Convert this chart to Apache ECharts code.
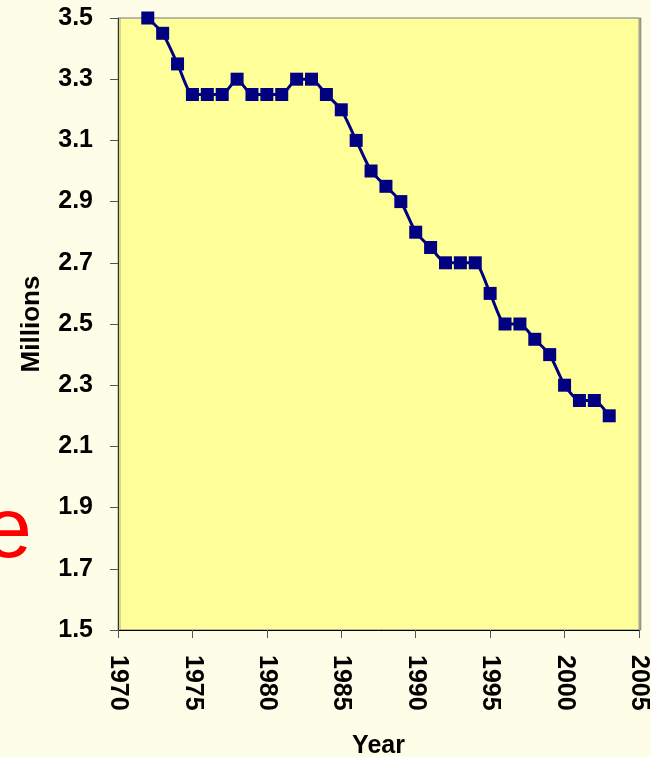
<!DOCTYPE html>
<html>
<head>
<meta charset="utf-8">
<script src="https://cdn.jsdelivr.net/npm/echarts@6/dist/echarts.min.js"></script>
<style>
  html, body { margin: 0; padding: 0; background: #fefee8; }
  #chart { width: 651px; height: 757px; }
</style>
</head>
<body>
<div id="chart"></div>
<script>
// data
const years = [1972, 1973, 1974, 1975, 1976, 1977, 1978, 1979, 1980, 1981, 1982,
  1983, 1984, 1985, 1986, 1987, 1988, 1989, 1990, 1991, 1992, 1993, 1994, 1995,
  1996, 1997, 1998, 1999, 2000, 2001, 2002, 2003];
const millions = [3.5, 3.45, 3.35, 3.25, 3.25, 3.25, 3.3, 3.25, 3.25, 3.25, 3.3,
  3.3, 3.25, 3.2, 3.1, 3.0, 2.95, 2.9, 2.8, 2.75, 2.7, 2.7, 2.7, 2.6,
  2.5, 2.5, 2.45, 2.4, 2.3, 2.25, 2.25, 2.2];

let points = [];
for (let i in years) {
  points.push([years[i], millions[i]]);
}

const font = 'Liberation Sans, Arial, sans-serif';

let chart = echarts.init(document.getElementById('chart'), null, { renderer: 'canvas' });

chart.setOption({
  animation: false,
  backgroundColor: '#fefee8',
  graphic: [{
    type: 'text',
    left: -16,
    top: 490,
    style: { text: 'e', fill: '#ff0000', font: '86px ' + font }
  }],
  grid: {
    left: 118, top: 18, right: 12, bottom: 127,
    containLabel: false,
    outerBoundsMode: 'none',
    show: true,
    backgroundColor: '#ffff99',
    borderColor: '#9a9a9a',
    borderWidth: 1,
    shadowColor: 'rgba(0,0,0,0.3)',
    shadowOffsetX: 2
  },
  xAxis: {
    type: 'value',
    min: 1970, max: 2005, interval: 5,
    name: 'Year',
    nameLocation: 'middle',
    nameGap: 104,
    nameTextStyle: { fontFamily: font, fontWeight: 'bold', fontSize: 25, color: '#000' },
    splitLine: { show: false },
    axisLine: { lineStyle: { color: '#000', width: 1 } },
    axisTick: { length: 8, inside: false, lineStyle: { color: '#555' } },
    axisLabel: {
      rotate: -90,
      margin: 25,
      fontFamily: font, fontWeight: 'bold', fontSize: 25, color: '#000',
      formatter: function (v) { return String(v); }
    }
  },
  yAxis: {
    type: 'value',
    min: 1.5, max: 3.5, interval: 0.2,
    name: 'Millions',
    nameLocation: 'middle',
    nameGap: 73,
    nameRotate: 90,
    nameTextStyle: { fontFamily: font, fontWeight: 'bold', fontSize: 26, color: '#000' },
    splitLine: { show: false },
    axisLine: { show: true, lineStyle: { color: '#333', width: 1 } },
    axisTick: { show: true, length: 8, lineStyle: { color: '#555' } },
    axisLabel: {
      margin: 25,
      fontFamily: font, fontWeight: 'bold', fontSize: 25, color: '#000',
      formatter: function (v) { return v.toFixed(1); }
    }
  },
  series: [{
    type: 'line',
    data: points,
    smooth: 0.2,
    symbol: 'rect',
    symbolSize: 13,
    lineStyle: { color: '#000080', width: 3 },
    itemStyle: { color: '#000080' }
  }]
});
</script>
</body>
</html>
